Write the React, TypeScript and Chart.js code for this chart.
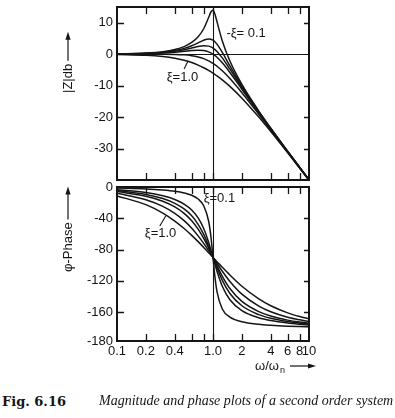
import React, { useEffect, useRef } from "react";
import { Chart, registerables } from "chart.js";

Chart.register(...registerables);

// ---------- data ----------
const FREQ = [0.1, 0.2, 0.3, 0.4, 0.5, 0.6, 0.7, 0.8, 0.9, 0.95, 1, 1.05, 1.1, 1.25, 1.5, 2, 3, 4, 6, 8, 10];
const ZETA_LABELS = ["ξ=0.1", "ξ=0.3", "ξ=0.4", "ξ=0.5", "ξ=0.7", "ξ=1.0"];

const MAG_Z01 = [0.09, 0.35, 0.8, 1.48, 2.42, 3.73, 5.53, 8.09, 11.64, 13.41, 13.98, 12.63, 10.34, 4.21, -2.18, -9.62, -18.09, -23.53, -30.89, -35.99, -39.91];
const MAG_Z03 = [0.07, 0.29, 0.65, 1.17, 1.85, 2.68, 3.6, 4.44, 4.85, 4.76, 4.44, 3.9, 3.19, 0.56, -3.75, -10.19, -18.28, -23.63, -30.93, -36.01, -39.93];
const MAG_Z04 = [0.06, 0.24, 0.53, 0.93, 1.41, 1.94, 2.41, 2.68, 2.56, 2.31, 1.94, 1.45, 0.87, -1.19, -4.77, -10.63, -18.44, -23.72, -30.96, -36.03, -39.94];
const MAG_Z05 = [0.04, 0.17, 0.37, 0.63, 0.9, 1.14, 1.25, 1.14, 0.73, 0.4, 0, -0.47, -0.98, -2.74, -5.81, -11.14, -18.63, -23.82, -31.01, -36.06, -39.96];
const MAG_Z07 = [0, 0, -0.02, -0.08, -0.22, -0.47, -0.87, -1.41, -2.11, -2.5, -2.92, -3.37, -3.83, -5.29, -7.76, -12.26, -19.12, -24.09, -31.12, -36.12, -40.0];
const MAG_Z10 = [-0.09, -0.34, -0.75, -1.29, -1.94, -2.67, -3.46, -4.3, -5.15, -5.59, -6.02, -6.46, -6.89, -8.17, -10.24, -13.98, -20.0, -24.61, -31.36, -36.26, -40.09];

const PH_Z01 = [-1.2, -2.4, -3.8, -5.4, -7.6, -10.6, -15.4, -24.0, -43.5, -62.8, -90, -116, -133.7, -156, -166.5, -172.4, -175.7, -176.9, -178, -178.5, -178.8];
const PH_Z03 = [-3.5, -7.1, -11.2, -15.9, -21.8, -29.4, -39.5, -53.1, -70.6, -80.3, -90, -99.2, -107.7, -126.9, -144.2, -158.2, -167.3, -170.9, -174.1, -175.6, -176.5];
const PH_Z04 = [-4.6, -9.5, -14.8, -20.9, -28.1, -36.9, -47.7, -60.6, -75.2, -82.7, -90, -97.0, -103.4, -119.4, -136.2, -151.9, -163.3, -168, -172.2, -174.2, -175.4];
const PH_Z05 = [-5.8, -11.8, -18.2, -25.5, -33.7, -43.2, -53.9, -65.8, -78.1, -84.1, -90, -95.6, -100.8, -114.2, -129.8, -146.3, -159.4, -165.1, -170.3, -172.8, -174.2];
const PH_Z07 = [-8.0, -16.3, -24.8, -33.7, -43.0, -52.7, -62.5, -72.2, -81.4, -85.8, -90, -94.0, -97.8, -107.8, -120.8, -137, -152.3, -159.5, -166.5, -169.9, -172];
const PH_Z10 = [-11.4, -22.6, -33.4, -43.6, -53.1, -61.9, -69.9, -77.3, -84.0, -87.1, -90, -92.9, -95.5, -102.7, -112.6, -126.9, -143.1, -151.9, -161, -165.7, -168.6];

const MAG_SERIES = [MAG_Z01, MAG_Z03, MAG_Z04, MAG_Z05, MAG_Z07, MAG_Z10];
const PHASE_SERIES = [PH_Z01, PH_Z03, PH_Z04, PH_Z05, PH_Z07, PH_Z10];

// axes
const X_MIN = 0.1;
const X_MAX = 10;
const MAG_MIN = -40;
const MAG_MAX = 15;
const PHASE_MIN = -197;
const PHASE_MAX = 0;
const MAG_TICKS = [-30, -20, -10, 0, 10];
const MAG_TICK_LABELS = ["-30", "-20", "-10", "0", "10"];
const PHASE_TICKS = [-197, -160, -120, -80, -40, 0];
const PHASE_TICK_LABELS = ["-180", "-160", "-120", "-80", "-40", "0"];
const X_TICKS = [0.1, 0.2, 0.4, 0.6, 0.8, 1, 2, 4, 6, 8, 10];
const X_TICK_LABELS = ["0.1", "0.2", "0.4", "", "", "1.0", "2", "4", "6", "8", "10"];
const X_MARKS = [0.2, 0.4, 0.6, 0.8, 1, 2, 4, 6, 8];

// annotations (data coordinates)
const MAG_NOTES = [
  { text: "-ξ= 0.1", x: 1.38, y: 6.7 },
  { text: "ξ=1.0", x: 0.33, y: -7.5 },
];
const MAG_LEADERS = [{ x1: 0.5, y1: -4.7, x2: 0.55, y2: -2.2 }];
const PHASE_NOTES = [
  { text: "ξ=0.1", x: 0.8, y: -14 },
  { text: "ξ=1.0", x: 0.195, y: -60 },
];
const PHASE_LEADERS = [{ x1: 0.279, y1: -50, x2: 0.322, y2: -37 }];

const INK = "#151515";
const FONT = "'Liberation Sans', Arial, sans-serif";

type Note = { text: string; x: number; y: number };
type Leader = { x1: number; y1: number; x2: number; y2: number };

function drawArrow(ctx: CanvasRenderingContext2D, x1: number, y1: number, x2: number, y2: number) {
  ctx.beginPath();
  ctx.moveTo(x1, y1);
  ctx.lineTo(x2 - 5, y2);
  ctx.lineWidth = 1.2;
  ctx.stroke();
  ctx.beginPath();
  ctx.moveTo(x2, y2);
  ctx.lineTo(x2 - 8, y2 - 2.6);
  ctx.lineTo(x2 - 8, y2 + 2.6);
  ctx.closePath();
  ctx.fill();
}

function makePlugin(cfg: {
  id: string;
  yMarks: number[];
  zeroLine: boolean;
  notes: Note[];
  leaders: Leader[];
  title: string;
  titleStart: number;
  arrowLen: number;
  xTitle: boolean;
}) {
  return {
    id: cfg.id,
    beforeDatasetsDraw(chart: any) {
      const { ctx, chartArea: a, scales } = chart;
      const xs = scales.x;
      const ys = scales.y;
      ctx.save();
      ctx.strokeStyle = INK;
      ctx.lineWidth = 1.1;
      const xv = Math.round(xs.getPixelForValue(1)) + 0.5;
      ctx.beginPath();
      ctx.moveTo(xv, a.top);
      ctx.lineTo(xv, a.bottom);
      ctx.stroke();
      if (cfg.zeroLine) {
        const y0 = Math.round(ys.getPixelForValue(0)) + 0.5;
        ctx.beginPath();
        ctx.moveTo(a.left, y0);
        ctx.lineTo(a.right, y0);
        ctx.stroke();
      }
      ctx.restore();
    },
    afterDatasetsDraw(chart: any) {
      const { ctx, chartArea: a, scales } = chart;
      const xs = scales.x;
      const ys = scales.y;
      ctx.save();
      ctx.strokeStyle = INK;
      ctx.fillStyle = INK;
      // ticks
      ctx.lineWidth = 1.3;
      ctx.beginPath();
      for (const v of X_MARKS) {
        const px = Math.round(xs.getPixelForValue(v)) + 0.5;
        ctx.moveTo(px, a.top);
        ctx.lineTo(px, a.top + 7);
        ctx.moveTo(px, a.bottom);
        ctx.lineTo(px, a.bottom - 7);
      }
      for (const v of cfg.yMarks) {
        const py = Math.round(ys.getPixelForValue(v)) + 0.5;
        ctx.moveTo(a.left, py);
        ctx.lineTo(a.left + 7, py);
        ctx.moveTo(a.right, py);
        ctx.lineTo(a.right - 5, py);
      }
      ctx.stroke();
      // frame
      ctx.lineWidth = 2;
      ctx.strokeRect(a.left, a.top, a.right - a.left, a.bottom - a.top);
      // notes
      ctx.font = "13px " + FONT;
      ctx.textAlign = "left";
      ctx.textBaseline = "middle";
      for (const n of cfg.notes) {
        ctx.fillText(n.text, xs.getPixelForValue(n.x), ys.getPixelForValue(n.y));
      }
      ctx.lineWidth = 1.1;
      for (const l of cfg.leaders) {
        ctx.beginPath();
        ctx.moveTo(xs.getPixelForValue(l.x1), ys.getPixelForValue(l.y1));
        ctx.lineTo(xs.getPixelForValue(l.x2), ys.getPixelForValue(l.y2));
        ctx.stroke();
      }
      // rotated y title
      ctx.save();
      ctx.translate(a.left - 49, a.bottom - cfg.titleStart);
      ctx.rotate(-Math.PI / 2);
      ctx.font = "13px " + FONT;
      ctx.textAlign = "left";
      ctx.textBaseline = "middle";
      ctx.fillText(cfg.title, 0, 0);
      const tw = ctx.measureText(cfg.title).width;
      drawArrow(ctx, tw + 3, 0, tw + 3 + cfg.arrowLen, 0);
      ctx.restore();
      // x title
      if (cfg.xTitle) {
        const tx = a.right - 54;
        const ty = a.bottom + 25;
        ctx.font = "13px " + FONT;
        ctx.fillText("ω/ω", tx, ty);
        const w = ctx.measureText("ω/ω").width;
        ctx.font = "9px " + FONT;
        ctx.fillText("n", tx + w + 1, ty + 5);
        drawArrow(ctx, a.right - 19, ty, a.right + 7, ty);
      }
      ctx.restore();
    },
  };
}

function buildDatasets(series: number[][]) {
  return series.map((vals, i) => ({
    label: ZETA_LABELS[i],
    data: FREQ.map((f, j) => ({ x: f, y: vals[j] })),
    borderColor: INK,
    borderWidth: 1.5,
    pointRadius: 0,
    fill: false,
    cubicInterpolationMode: "monotone" as const,
  }));
}

export default function App() {
  const topRef = useRef<HTMLCanvasElement>(null);
  const botRef = useRef<HTMLCanvasElement>(null);

  useEffect(() => {
    Chart.defaults.font.family = FONT;
    Chart.defaults.font.size = 13;
    Chart.defaults.color = INK;

    const top = new Chart(topRef.current!, {
      type: "line",
      data: { datasets: buildDatasets(MAG_SERIES) as any },
      options: {
        animation: false,
        responsive: false,
        events: [],
        layout: { padding: { left: 0, right: 86, top: 7, bottom: 6 } },
        plugins: { legend: { display: false }, tooltip: { enabled: false }, title: { display: false } },
        scales: {
          x: { type: "logarithmic", min: X_MIN, max: X_MAX, display: false },
          y: {
            type: "linear",
            min: MAG_MIN,
            max: MAG_MAX,
            grid: { display: false, drawTicks: false },
            border: { display: false },
            afterBuildTicks: (s: any) => {
              s.ticks = MAG_TICKS.map((v) => ({ value: v }));
            },
            afterFit: (s: any) => {
              s.width = 117;
              s.paddingTop = 0;
              s.paddingBottom = 0;
            },
            ticks: {
              padding: 4,
              autoSkip: false,
              callback: (v: any) => MAG_TICK_LABELS[MAG_TICKS.indexOf(Number(v))],
            },
          },
        },
      },
      plugins: [
        makePlugin({
          id: "magFrame",
          yMarks: [-30, -20, -10, 10],
          zeroLine: true,
          notes: MAG_NOTES,
          leaders: MAG_LEADERS,
          title: "|Z|db",
          titleStart: 87,
          arrowLen: 29,
          xTitle: false,
        }),
      ],
    });

    const bot = new Chart(botRef.current!, {
      type: "line",
      data: { datasets: buildDatasets(PHASE_SERIES) as any },
      options: {
        animation: false,
        responsive: false,
        events: [],
        layout: { padding: { left: 0, right: 86, top: 8, bottom: 0 } },
        plugins: { legend: { display: false }, tooltip: { enabled: false }, title: { display: false } },
        scales: {
          x: {
            type: "logarithmic",
            min: X_MIN,
            max: X_MAX,
            grid: { display: false, drawTicks: false },
            border: { display: false },
            afterBuildTicks: (s: any) => {
              s.ticks = X_TICKS.map((v) => ({ value: v }));
            },
            afterFit: (s: any) => {
              s.height = 38;
              s.paddingLeft = 0;
              s.paddingRight = 0;
            },
            ticks: {
              padding: 3,
              autoSkip: false,
              maxRotation: 0,
              minRotation: 0,
              callback: (v: any) => X_TICK_LABELS[X_TICKS.indexOf(Number(v))],
            },
          },
          y: {
            type: "linear",
            min: PHASE_MIN,
            max: PHASE_MAX,
            grid: { display: false, drawTicks: false },
            border: { display: false },
            afterBuildTicks: (s: any) => {
              s.ticks = PHASE_TICKS.map((v) => ({ value: v }));
            },
            afterFit: (s: any) => {
              s.width = 117;
              s.paddingTop = 0;
              s.paddingBottom = 0;
            },
            ticks: {
              padding: 4,
              autoSkip: false,
              callback: (v: any) => PHASE_TICK_LABELS[PHASE_TICKS.indexOf(Number(v))],
            },
          },
        },
      },
      plugins: [
        makePlugin({
          id: "phaseFrame",
          yMarks: [-160, -120, -80, -40],
          zeroLine: false,
          notes: PHASE_NOTES,
          leaders: PHASE_LEADERS,
          title: "φ-Phase",
          titleStart: 69,
          arrowLen: 33,
          xTitle: true,
        }),
      ],
    });

    return () => {
      top.destroy();
      bot.destroy();
    };
  }, []);

  return (
    <div style={{ position: "absolute", left: 0, top: 0, width: 395, height: 418, background: "#fff", overflow: "hidden" }}>
      <canvas ref={topRef} width={395} height={186} style={{ position: "absolute", left: 0, top: 0, width: 395, height: 186 }} />
      <canvas ref={botRef} width={395} height={200} style={{ position: "absolute", left: 0, top: 179, width: 395, height: 200 }} />
      <div style={{ position: "absolute", left: 2, top: 394, font: "bold 13px 'DejaVu Serif', serif", color: INK, whiteSpace: "nowrap" }}>
        Fig. 6.16
      </div>
      <div style={{ position: "absolute", left: 99, top: 393, font: "italic 14px 'Liberation Serif', serif", color: INK, whiteSpace: "nowrap" }}>
        Magnitude and phase plots of a second order system
      </div>
    </div>
  );
}
